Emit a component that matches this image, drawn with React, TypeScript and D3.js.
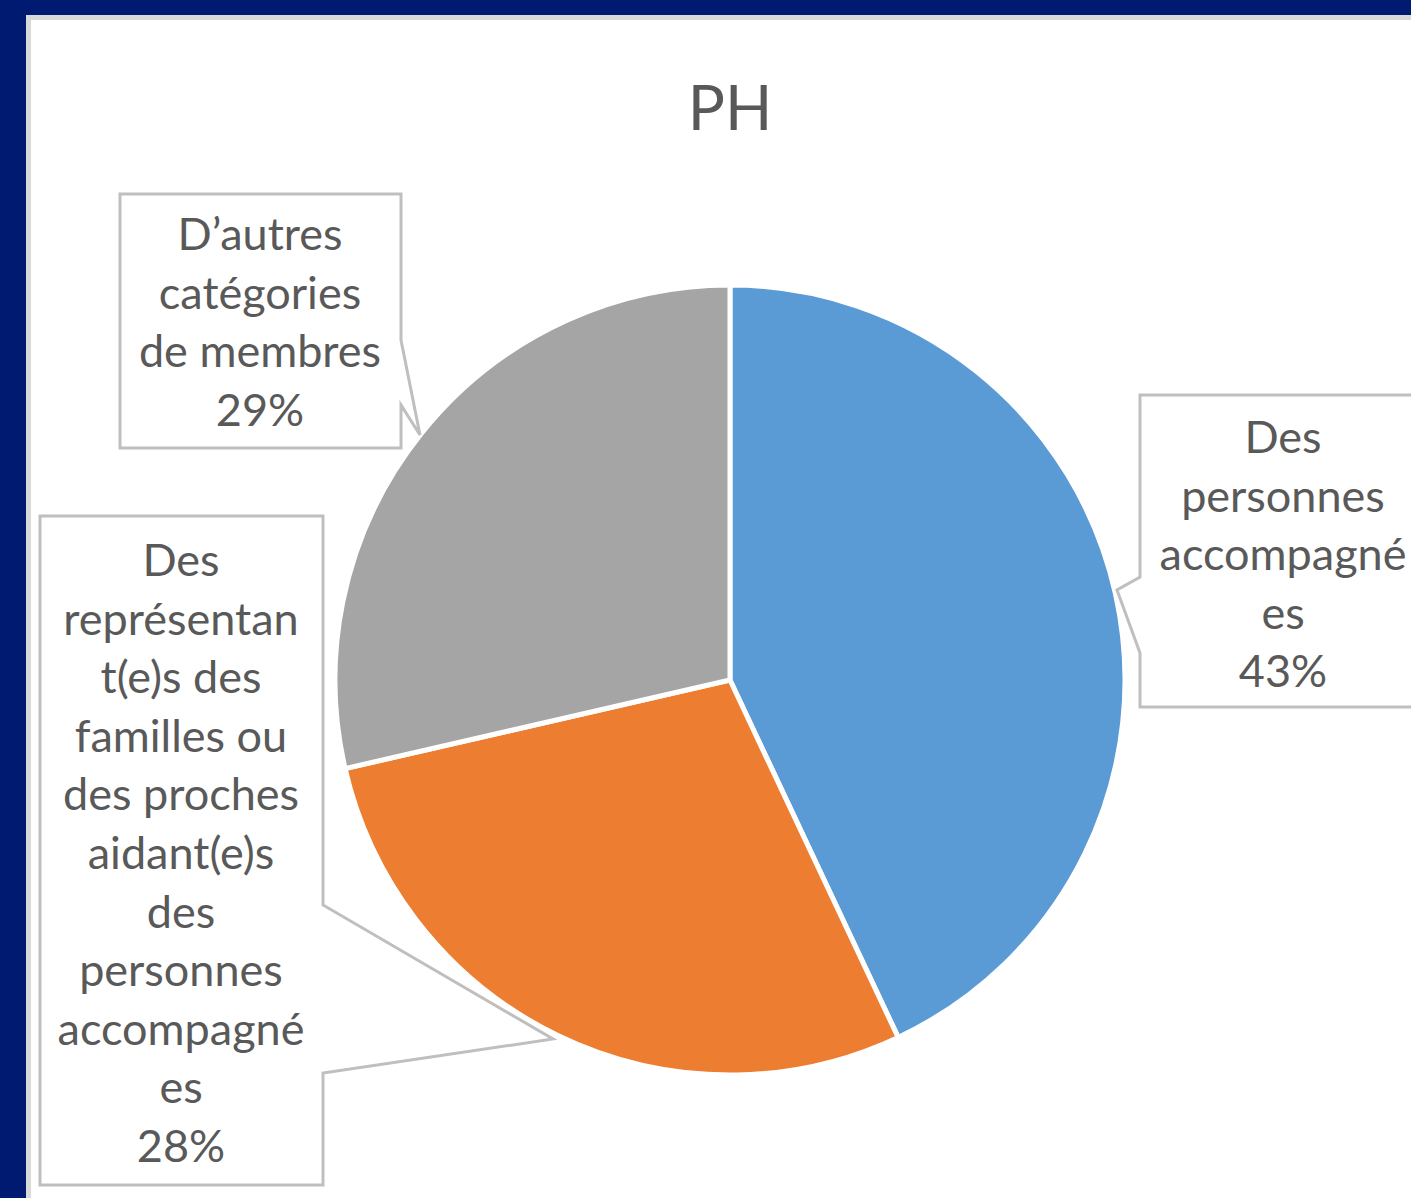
import React from "react";
import * as d3 from "d3";

const categories = [
  "Des personnes accompagnées",
  "Des représentant(e)s des familles ou des proches aidant(e)s des personnes accompagnées",
  "D’autres catégories de membres",
];
const values = [43.0, 28.4, 28.6];
const percentLabels = ["43%", "28%", "29%"];
const colors = ["#5b9bd5", "#ed7d31", "#a5a5a5"];
const labelLines = [
  ["Des", "personnes", "accompagné", "es"],
  ["Des", "représentan", "t(e)s des", "familles ou", "des proches", "aidant(e)s", "des", "personnes", "accompagné", "es"],
  ["D’autres", "catégories", "de membres"],
];
const title = "PH";

const W = 1411;
const H = 1198;
const CX = 730;
const CY = 680;
const R = 395;
const FONT = "Lato, 'Open Sans', sans-serif";
const TEXT = "#595959";
const LINE_H = 58.6;

// Callout layout: box polygon points and text anchor
const callouts = [
  {
    pts: [[1140, 395], [1420, 395], [1420, 707], [1140, 707], [1140, 653], [1117, 590], [1140, 577]],
    cx: 1283,
    firstBaseline: 453,
  },
  {
    pts: [[40, 516], [323, 516], [323, 905], [553, 1039], [323, 1073], [323, 1185], [40, 1185]],
    cx: 181,
    firstBaseline: 576,
  },
  {
    pts: [[120, 194], [401, 194], [401, 340], [420, 435], [401, 405], [401, 448], [120, 448]],
    cx: 260,
    firstBaseline: 250,
  },
];

export default function App() {
  const pie = d3.pie<number>().sort(null).value((d) => d)(values);
  const arc = d3.arc<d3.PieArcDatum<number>>().innerRadius(0).outerRadius(R);

  return (
    <svg
      width={W}
      height={H}
      style={{ position: "fixed", left: 0, top: 0, display: "block" }}
    >
      <rect x={0} y={0} width={W} height={H} fill="#001a72" />
      <rect x={28.5} y={17.5} width={W} height={H} fill="#ffffff" stroke="#d9d9d9" strokeWidth={5} />
      <text
        x={CX}
        y={130}
        textAnchor="middle"
        fontFamily={FONT}
        fontSize={62}
        fill={TEXT}
      >
        {title}
      </text>
      <g transform={`translate(${CX},${CY})`}>
        {pie.map((p, i) => (
          <path key={categories[i]} d={arc(p) || ""} fill={colors[i]} stroke="#ffffff" strokeWidth={5} strokeLinejoin="round" />
        ))}
      </g>
      {callouts.map((c, i) => (
        <g key={i}>
          <polygon
            points={c.pts.map((p) => p.join(",")).join(" ")}
            fill="#ffffff"
            fillOpacity={i === 0 ? 1 : 1}
            stroke="#bfbfbf"
            strokeWidth={3}
          />
          {[...labelLines[i], percentLabels[i]].map((line, j) => (
            <text
              key={j}
              x={c.cx}
              y={c.firstBaseline + j * LINE_H}
              textAnchor="middle"
              fontFamily={FONT}
              fontSize={45}
              fill={TEXT}
            >
              {line}
            </text>
          ))}
        </g>
      ))}
    </svg>
  );
}
